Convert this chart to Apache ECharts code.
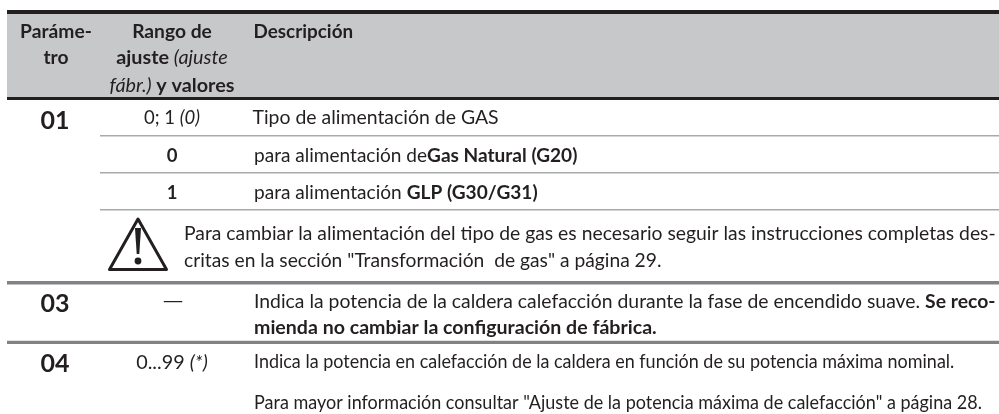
<!DOCTYPE html>
<html><head><meta charset="utf-8">
<style>html,body{margin:0;padding:0;background:#fff}#c{width:999px;height:414px}</style>
<script src="https://cdn.jsdelivr.net/npm/echarts@6/dist/echarts.min.js"></script>
</head><body><div id="c"></div>
<script>
var headerLines = [
  ['{b|Paráme-}', 56, 32, 'center', 1.04],
  ['{b|tro}', 56, 58, 'center', 1.04],
  ['{b|Rango de}', 172, 32, 'center', 1.04],
  ['{b|ajuste }{i|(ajuste}', 172, 58, 'center', 1.07],
  ['{i|fábr.) }{b|y valores}', 172, 86, 'center', 1.07],
  ['{b|Descripción}', 253.5, 32, 'left', 1.02]
];
var paramCodes = [['01', 55, 120.5], ['03', 55, 304], ['04', 55, 364]];
var rangeCells = [
  ['{n|0; 1 }{i|(0)}', 172, 118.5, 'center', 1],
  ['{b|0}', 172, 156, 'center', 1],
  ['{b|1}', 172, 193, 'center', 1],
  ['{n|—}', 173, 301, 'center', 1.5],
  ['{n|0...99 }{i|(*)}', 172, 363, 'center', 1.07]
];
var descriptionLines = [
  ['{n|Tipo de alimentación de GAS}', 252.5, 118.5, 'left', 1.05],
  ['{n|para alimentación de}{b|Gas Natural (G20)}', 254, 156, 'left', 1.03],
  ['{n|para alimentación }{b|GLP (G30/G31)}', 254, 193, 'left', 1.032],
  ['{n|Para cambiar la alimentación del tipo de gas es necesario seguir las instrucciones completas des-}', 184, 234, 'left', 1.045],
  ['{n|critas en la sección "Transformación  de gas" a página 29.}', 184, 261, 'left', 1.04],
  ['{n|Indica la potencia de la caldera calefacción durante la fase de encendido suave. }{b|Se reco-}', 254, 302, 'left', 1.047],
  ['{b|mienda no cambiar la configuración de fábrica.}', 254, 328, 'left', 1.058],
  ['{n|Indica la potencia en calefacción de la caldera en función de su potencia máxima nominal.}', 254, 362, 'left', 0.971],
  ['{n|Para mayor información consultar "Ajuste de la potencia máxima de calefacción" a página 28.}', 254, 403, 'left', 0.973]
];
var ink = '#231f20', band = '#c7c8ca', rule = '#808285', thin = '#a7a9ac';
var FONT = 'Lato, sans-serif', FS = 18.5;
var rich = {
  n: {fontFamily: FONT, fontSize: FS, color: ink},
  b: {fontFamily: FONT, fontSize: FS, fontWeight: 'bold', color: ink},
  i: {fontFamily: FONT, fontSize: FS, fontStyle: 'italic', color: ink}
};
function txt(r) {
  return {type: 'text', x: r[1], y: r[2], scaleX: r[4], style: {
    rich: rich, text: r[0], align: r[3], verticalAlign: 'middle', fill: ink,
    fontFamily: FONT, fontSize: FS
  }};
}
var g = [];
g.push({type: 'rect', shape: {x: 7, y: 14, width: 992, height: 83}, style: {fill: band}});
[[7, 10, 992, 4, ink], [7, 97, 992, 3, ink], [100, 135, 899, 1.4, thin], [100, 172, 899, 1.4, thin], [100, 209, 899, 1.4, thin],
 [7, 281, 992, 3.5, rule], [7, 340.7, 992, 3.3, rule]].forEach(function (r) {
  g.push({type: 'rect', shape: {x: r[0], y: r[1], width: r[2], height: r[3]}, style: {fill: r[4]}});
});
headerLines.forEach(function (h) { g.push(txt(h)); });
paramCodes.forEach(function (p) {
  g.push({type: 'text', x: p[1], y: p[2], style: {text: p[0], align: 'center', verticalAlign: 'middle', fill: ink, fontFamily: FONT, fontSize: 25, fontWeight: 'bold'}});
});
rangeCells.forEach(function (c) { g.push(txt(c)); });
descriptionLines.forEach(function (d) { g.push(txt(d)); });
// warning icon
g.push({type: 'polygon', shape: {points: [[138, 219], [166.5, 269.5], [109.5, 269.5]]}, style: {fill: '#fff', stroke: ink, lineWidth: 3, lineJoin: 'round'}});
g.push({type: 'polygon', shape: {points: [[135, 228], [141, 228], [139.3, 254], [136.7, 254]]}, style: {fill: ink}});
g.push({type: 'circle', shape: {cx: 138, cy: 261, r: 3.4}, style: {fill: ink}});
var chart = echarts.init(document.getElementById('c'), null, {renderer: 'canvas', width: 999, height: 414});
chart.setOption({animation: false, graphic: {elements: g}});
</script></body></html>
